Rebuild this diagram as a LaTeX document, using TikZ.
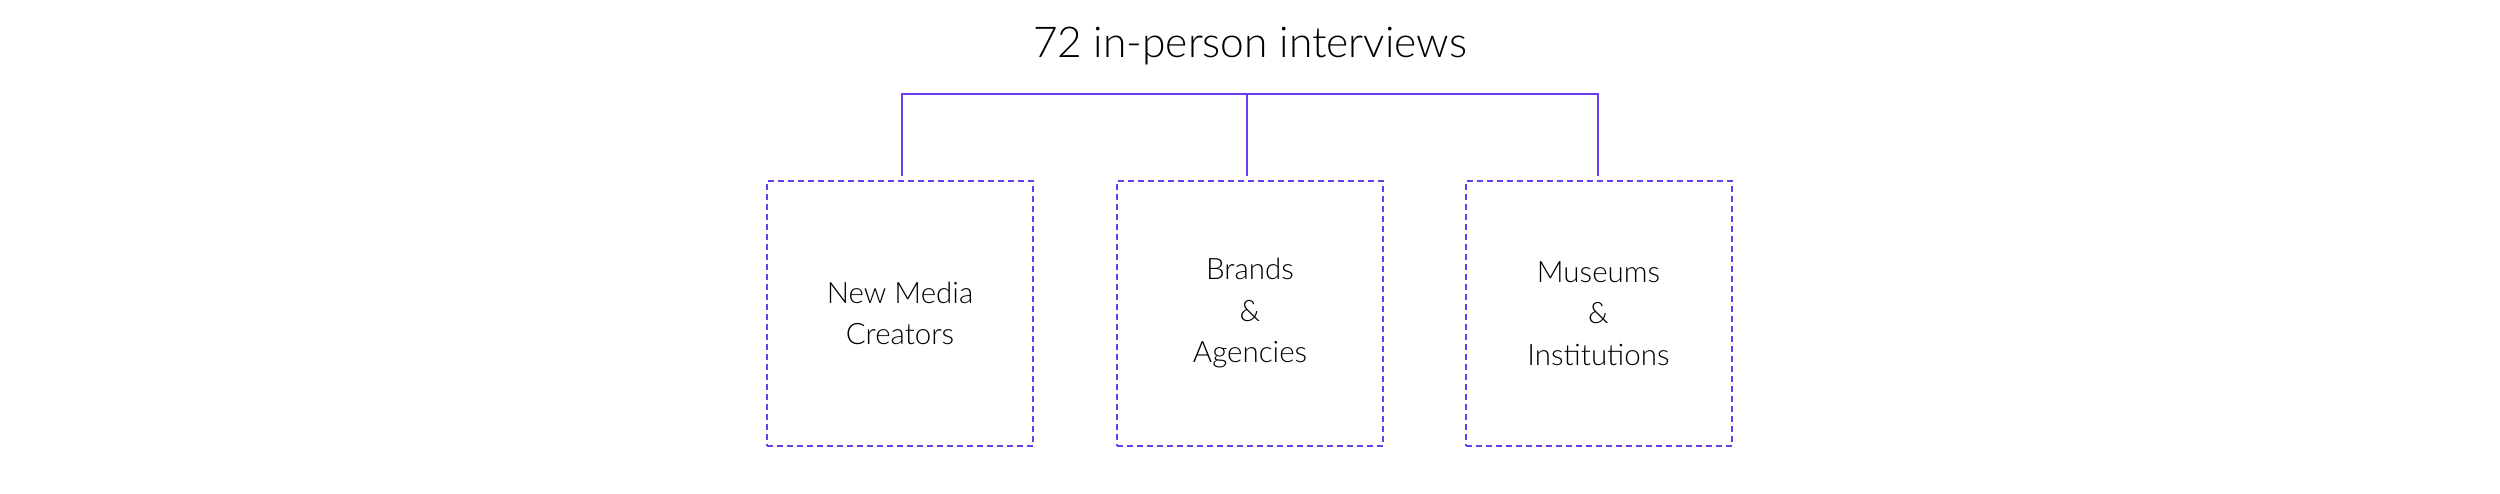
\documentclass[tikz,border=0pt]{standalone}
\usepackage{fontspec}
\setmainfont{Lato Light}
\definecolor{linec}{RGB}{106,60,240}
\begin{document}
\begin{tikzpicture}[x=1pt,y=-1pt,
  catbox/.style={draw=linec, line width=2pt, dash pattern=on 6pt off 4pt, minimum width=266pt, minimum height=265pt, inner sep=0pt, align=center, font=\fontsize{29.5}{41.5}\selectfont, text=black},
  conn/.style={draw=linec, line width=2pt}]
\useasboundingbox (0,0) rectangle (2500,494);
\node[font=\fontsize{42.5}{50}\selectfont, text=black] (title) at (1250,46) {72 in-person interviews};
\node[catbox] (b1) at (900,313.5) {New Media\\Creators};
\node[catbox] (b2) at (1250,313.5) {Brands\\\&\\Agencies};
\node[catbox] (b3) at (1598.5,313.5) {Museums\\\&\\Institutions};
\coordinate (top) at (1247,94);
\draw[conn] ([xshift=2pt,yshift=4pt]b1.north) |- (top);
\draw[conn] ([xshift=-3pt,yshift=4pt]b2.north) -- ([xshift=-3pt]b2.north |- top);
\draw[conn] ([xshift=-1pt,yshift=4pt]b3.north) |- (top);
\end{tikzpicture}
\end{document}
